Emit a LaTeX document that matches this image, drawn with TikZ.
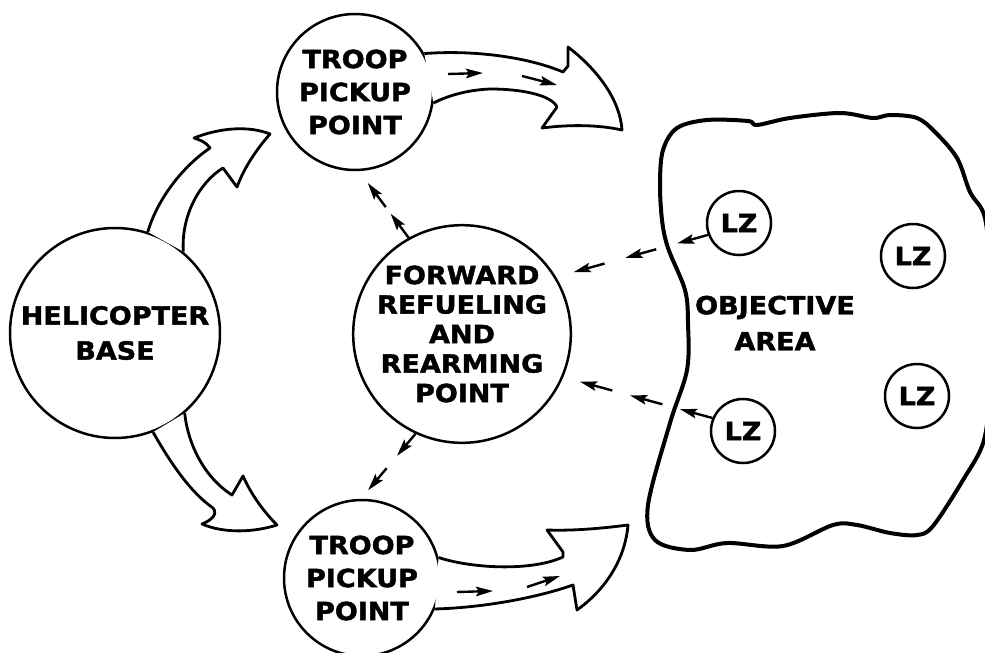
\documentclass[tikz,border=0pt]{standalone}
\usepackage{fontspec}
\newfontfamily\lblfont{DejaVu Sans}[FakeStretch=1.08,BoldFeatures={FakeBold=1.6}]
\usepackage{tikz}
\usetikzlibrary{arrows.meta,
                calc}
\newcommand{\sitefont}[1]{\lblfont\bfseries\fontsize{25}{#1}\selectfont}
\tikzset{site/.style = {circle,
                     draw,
                     line width=2.5pt,
                     inner sep=0pt,
                     align=center,
                     minimum size=#1
                    },
         bigarrow/.style = {
                     draw,
                     fill=white,
                     line width=2.8pt,
                     line join=round
         },
         linkarrow/.style = {
                     line width=2.4pt,
                     -{Stealth[length=17pt,width=9.5pt,inset=3pt]}
         },
         area/.style = {
            draw,line width=4pt,line join=round
         }
        }
% a row of short arrows: parts, share of one part, from, to
\newcommand{\seglink}[4]{%
  \foreach \k in {1,...,#1}{%
    \pgfmathsetmacro{\segA}{(\k-1)*(1-#2)/(#1-1)}%
    \pgfmathsetmacro{\segB}{\segA+#2}%
    \path[draw,linkarrow] ($(#3)!\segA!(#4)$) -- ($(#3)!\segB!(#4)$);
  }}

\begin{document}
\begin{tikzpicture}[x=1pt,y=-1pt]
        \useasboundingbox (0,0) rectangle (985,653);

        \node[site=210,font=\sitefont{35}] (heli) at (115,333) {HELICOPTER\\BASE};
        \node[site=156,font=\sitefont{33}] (troopA) at (355,92) {TROOP\\PICKUP\\POINT};
        \node[site=156,font=\sitefont{33}] (troopB) at (362,578) {TROOP\\PICKUP\\POINT};
        \node[site=208,font=\sitefont{29.5}] (frrp) at (462,334) {FORWARD\\REFUELING\\AND\\REARMING\\POINT};

        % objective area
        \path[area] plot[smooth cycle,tension=0.55] coordinates {(663,150) (677,128) (707,120)
            (748,121) (757,125) (790,118) (840,113) (873,118) (890,115) (917,118) (935,132)
            (957,158) (970,192) (985,218) (990,280) (990,380) (984,440) (963,480) (933,526)
            (917,535) (890,533) (857,525) (833,525) (783,546) (727,543) (690,550) (655,540)
            (648,505) (670,423) (687,370) (688,323) (685,290) (668,248) (662,220) (660,183)};
        \node[font=\sitefont{36},align=center] (objective) at (775,323) {OBJECTIVE\\AREA};
        \node[site=64,font=\sitefont{30}] (lz1) at (739,223) {LZ};
        \node[site=64,font=\sitefont{30}] (lz2) at (913,256) {LZ};
        \node[site=64,font=\sitefont{30}] (lz3) at (917,396) {LZ};
        \node[site=64,font=\sitefont{30}] (lz4) at (743,431) {LZ};

        % wide arrows
        \path[bigarrow] (heli.72) .. controls (157,200) and (182,167) .. (210,148)
            .. controls (206,142) and (200,140) .. (194,138)
            .. controls (222,127) and (250,126) .. (270,134)
            .. controls (256,150) and (244,168) .. (237,187)
            -- (223,168)
            .. controls (200,182) and (181,215) .. (heli.50);
        \path[bigarrow] (heli.-69) .. controls (170,462) and (190,492) .. (213,508)
            .. controls (218,514) and (212,520) .. (202,524)
            .. controls (225,534) and (255,532) .. (277,525)
            .. controls (262,510) and (250,492) .. (243,476)
            -- (232,495)
            .. controls (205,478) and (188,445) .. (heli.-49);
        \path[bigarrow] (troopA.29) .. controls (470,50) and (525,56) .. (563,72)
            -- (568,66) -- (568,47)
            .. controls (598,70) and (620,100) .. (622,130)
            .. controls (595,124) and (565,125) .. (542,128)
            -- (557,107)
            .. controls (552,96) and (525,89) .. (490,89)
            .. controls (465,90) and (445,97) .. (troopA.-8);
        \path[bigarrow] (troopB.15) .. controls (470,568) and (530,572) .. (563,557)
            -- (563,552) -- (547,530)
            .. controls (575,531) and (605,528) .. (628,525)
            .. controls (625,560) and (605,590) .. (577,610)
            -- (573,585)
            .. controls (530,600) and (475,608) .. (troopB.-23);
        \path[draw,linkarrow] (448,74) -- (483,73);
        \path[draw,linkarrow] (522,76) -- (557,85);
        \path[draw,linkarrow] (457,592) -- (493,591);
        \path[draw,linkarrow] (527,587) -- (560,576);

        % short arrow links
        \coordinate (nearA) at ($(troopA)!1.16!(troopA.-82)$);
        \coordinate (nearB) at ($(troopB)!1.11!(troopB.86)$);
        \coordinate (nearC) at ($(frrp)!1.16!(frrp.29)$);
        \coordinate (nearD) at ($(frrp)!1.155!(frrp.-22)$);
        \seglink{2}{0.44}{frrp.119}{nearA}
        \seglink{2}{0.39}{frrp.245}{nearB}
        \seglink{3}{0.23}{lz1.201}{nearC}
        \seglink{3}{0.245}{lz4.157}{nearD}
    \end{tikzpicture}
\end{document}
